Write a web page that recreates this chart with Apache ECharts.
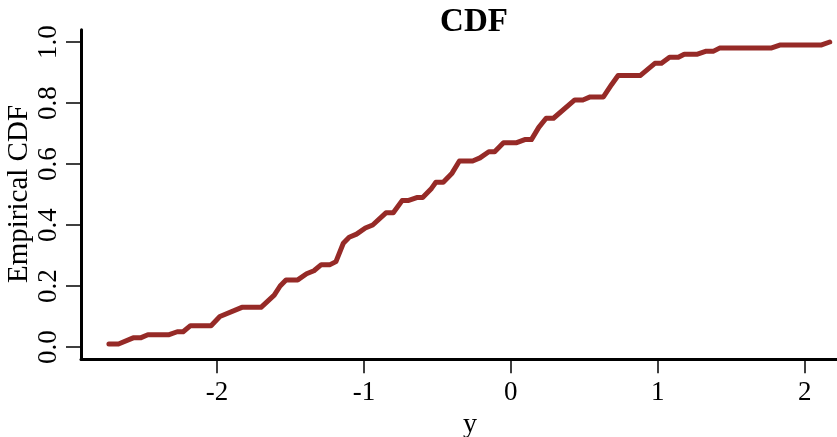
<!DOCTYPE html>
<html>
<head>
<meta charset="utf-8">
<script src="https://cdn.jsdelivr.net/npm/echarts@6/dist/echarts.min.js"></script>
<style>
  html, body { margin: 0; padding: 0; background: #fff; }
  #chart { width: 837px; height: 437px; }
</style>
</head>
<body>
<div id="chart"></div>
<script>
// Sorted sample values and their empirical cumulative proportions
const sampleY = [
  -2.735, -2.67, -2.57, -2.52, -2.47, -2.33, -2.27, -2.23, -2.18, -2.04,
  -1.98, -1.83, -1.70, -1.61, -1.57, -1.53, -1.45, -1.39, -1.34, -1.29,
  -1.23, -1.19, -1.14, -1.10, -1.05, -0.99, -0.94, -0.85, -0.80, -0.74,
  -0.70, -0.64, -0.60, -0.54, -0.51, -0.46, -0.40, -0.35, -0.26, -0.21,
  -0.15, -0.11, -0.05, 0.04, 0.095, 0.14, 0.19, 0.24, 0.29, 0.435,
  0.49, 0.54, 0.63, 0.685, 0.73, 0.88, 0.98, 1.025, 1.08, 1.14,
  1.18, 1.27, 1.33, 1.38, 1.42, 1.77, 1.83, 2.11, 2.17
];
const ecdfValues = [
  0.01, 0.01, 0.03, 0.03, 0.04, 0.04, 0.05, 0.05, 0.07, 0.07,
  0.10, 0.13, 0.13, 0.17, 0.20, 0.22, 0.22, 0.24, 0.25, 0.27,
  0.27, 0.28, 0.34, 0.36, 0.37, 0.39, 0.40, 0.44, 0.44, 0.48,
  0.48, 0.49, 0.49, 0.52, 0.54, 0.54, 0.57, 0.61, 0.61, 0.62,
  0.64, 0.64, 0.67, 0.67, 0.68, 0.68, 0.72, 0.75, 0.75, 0.81,
  0.81, 0.82, 0.82, 0.86, 0.89, 0.89, 0.93, 0.93, 0.95, 0.95,
  0.96, 0.96, 0.97, 0.97, 0.98, 0.98, 0.99, 0.99, 1.00
];
const xTicks = [-2, -1, 0, 1, 2];
const yTicks = [0, 0.2, 0.4, 0.6, 0.8, 1.0];

const FONT = "'Liberation Serif', 'DejaVu Serif', serif";
const points = sampleY.map((v, i) => [v, ecdfValues[i]]);

const chart = echarts.init(document.getElementById('chart'), null, { renderer: 'canvas' });
chart.setOption({
  animation: false,
  backgroundColor: '#ffffff',
  title: {
    text: 'CDF',
    left: 469,
    top: 1,
    textAlign: 'center',
    textStyle: { fontFamily: FONT, fontWeight: 'bold', fontSize: 33, color: '#000' }
  },
  grid: {
    left: 81, right: -23, top: 29.8, bottom: 77.8,
    containLabel: false, outerBoundsMode: 'none'
  },
  // axis titles, placed in the outer margins like base-graphics annotations
  graphic: [
    {
      type: 'text',
      x: 470, y: 425,
      style: {
        text: 'y', fill: '#000', font: '28px ' + FONT,
        align: 'center', verticalAlign: 'middle'
      }
    },
    {
      type: 'text',
      x: 19, y: 194,
      rotation: Math.PI / 2,
      style: {
        text: 'Empirical CDF', fill: '#000', font: '29px ' + FONT,
        align: 'center', verticalAlign: 'middle'
      }
    }
  ],
  xAxis: {
    type: 'value',
    min: -2.925,
    max: 2.376,
    axisLine: { show: true, onZero: false, lineStyle: { color: '#000', width: 3 } },
    axisTick: { show: true, customValues: xTicks, length: 14, lineStyle: { color: '#000', width: 1.5 } },
    axisLabel: {
      customValues: xTicks,
      margin: 20,
      fontFamily: FONT, fontSize: 27, color: '#000',
      formatter: v => String(Math.round(v))
    },
    splitLine: { show: false }
  },
  yAxis: {
    type: 'value',
    min: -0.04,
    max: 1.04,
    axisLine: { show: true, onZero: false, lineStyle: { color: '#000', width: 3 } },
    axisTick: { show: true, customValues: yTicks, length: 15, lineStyle: { color: '#000', width: 1.5 } },
    axisLabel: {
      customValues: yTicks,
      rotate: 90,
      margin: 19,
      fontFamily: FONT, fontSize: 27, color: '#000',
      formatter: v => v.toFixed(1)
    },
    splitLine: { show: false }
  },
  series: [{
    type: 'line',
    data: points,
    showSymbol: false,
    symbol: 'none',
    clip: false,
    lineStyle: { color: '#962a27', width: 5, cap: 'round', join: 'round' }
  }]
});
</script>
</body>
</html>
